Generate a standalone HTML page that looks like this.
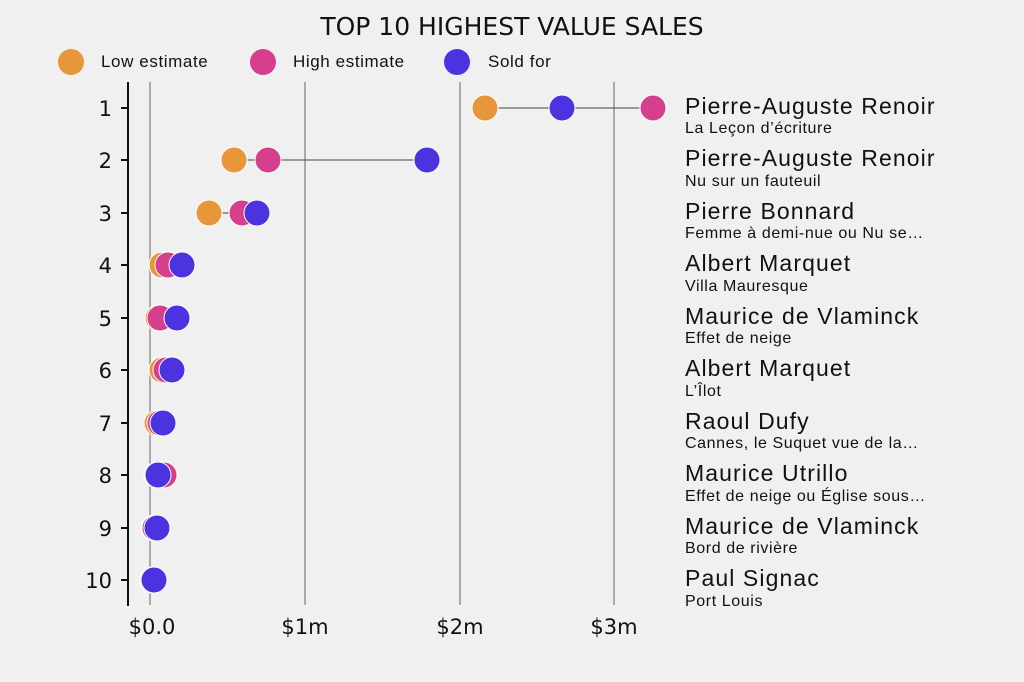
<!DOCTYPE html>
<html><head><meta charset="utf-8"><style>
body{margin:0;background:#f0f0f0;}
svg{display:block}
.t{font-family:"DejaVu Sans",sans-serif;}
.n{font-family:"Liberation Sans",sans-serif;}
</style></head><body>
<svg width="1024" height="682" viewBox="0 0 1024 682" xmlns="http://www.w3.org/2000/svg">
<rect width="1024" height="682" fill="#f0f0f0"/>
<text x="512" y="35" text-anchor="middle" class="t" font-size="25" fill="#111">TOP 10 HIGHEST VALUE SALES</text>
<g class="n" font-size="17" fill="#111" letter-spacing="0.6">
<circle cx="71" cy="62" r="13" fill="#E8963A"/><text x="101" y="67">Low estimate</text>
<circle cx="263" cy="62" r="13" fill="#D63F8C"/><text x="293" y="67">High estimate</text>
<circle cx="457" cy="62" r="13" fill="#4B34E0"/><text x="488" y="67">Sold for</text>
</g>
<g stroke="#aaa" stroke-width="2">
<line x1="150" y1="82" x2="150" y2="605"/><line x1="305" y1="82" x2="305" y2="605"/>
<line x1="460" y1="82" x2="460" y2="605"/><line x1="614" y1="82" x2="614" y2="605"/>
</g>
<line x1="128" y1="82" x2="128" y2="606" stroke="#111" stroke-width="2"/>
<g stroke="#111" stroke-width="2">
<line x1="121" y1="108" x2="128" y2="108"/><line x1="121" y1="160" x2="128" y2="160"/><line x1="121" y1="213" x2="128" y2="213"/><line x1="121" y1="265" x2="128" y2="265"/><line x1="121" y1="318" x2="128" y2="318"/><line x1="121" y1="370" x2="128" y2="370"/><line x1="121" y1="423" x2="128" y2="423"/><line x1="121" y1="475" x2="128" y2="475"/><line x1="121" y1="528" x2="128" y2="528"/><line x1="121" y1="580" x2="128" y2="580"/>
</g>
<g class="t" font-size="21" fill="#111" text-anchor="end">
<text x="112" y="116">1</text><text x="112" y="168">2</text><text x="112" y="221">3</text><text x="112" y="273">4</text><text x="112" y="326">5</text><text x="112" y="378">6</text><text x="112" y="431">7</text><text x="112" y="483">8</text><text x="112" y="536">9</text><text x="112" y="588">10</text>
</g>
<g class="t" font-size="21" fill="#111" text-anchor="middle">
<text x="152" y="634">$0.0</text><text x="305" y="634">$1m</text><text x="460" y="634">$2m</text><text x="614" y="634">$3m</text>
</g>
<g stroke="#444" stroke-width="1">
<line x1="485" y1="108" x2="653" y2="108"/><line x1="234" y1="160" x2="427" y2="160"/><line x1="209" y1="213" x2="257" y2="213"/>
</g>
<g stroke="#fff" stroke-width="1">
<circle cx="485" cy="108" r="13" fill="#E8963A"/><circle cx="653" cy="108" r="13" fill="#D63F8C"/><circle cx="562" cy="108" r="13" fill="#4B34E0"/>
<circle cx="234" cy="160" r="13" fill="#E8963A"/><circle cx="268" cy="160" r="13" fill="#D63F8C"/><circle cx="427" cy="160" r="13" fill="#4B34E0"/>
<circle cx="209" cy="213" r="13" fill="#E8963A"/><circle cx="242" cy="213" r="13" fill="#D63F8C"/><circle cx="257" cy="213" r="13" fill="#4B34E0"/>
<circle cx="162" cy="265" r="13" fill="#E8963A"/><circle cx="168" cy="265" r="13" fill="#D63F8C"/><circle cx="182" cy="265" r="13" fill="#4B34E0"/>
<circle cx="158" cy="318" r="13" fill="#E8963A"/><circle cx="160" cy="318" r="13" fill="#D63F8C"/><circle cx="177" cy="318" r="13" fill="#4B34E0"/>
<circle cx="162" cy="370" r="13" fill="#E8963A"/><circle cx="166" cy="370" r="13" fill="#D63F8C"/><circle cx="172" cy="370" r="13" fill="#4B34E0"/>
<circle cx="157" cy="423" r="13" fill="#E8963A"/><circle cx="160" cy="423" r="13" fill="#D63F8C"/><circle cx="163" cy="423" r="13" fill="#4B34E0"/>
<circle cx="157" cy="475" r="13" fill="#E8963A"/><circle cx="164" cy="475" r="13" fill="#D63F8C"/><circle cx="158" cy="475" r="13" fill="#4B34E0"/>
<circle cx="154" cy="528" r="13" fill="#E8963A"/><circle cx="155" cy="528" r="13" fill="#D63F8C"/><circle cx="157" cy="528" r="13" fill="#4B34E0"/>
<circle cx="153" cy="580" r="13" fill="#E8963A"/><circle cx="153" cy="580" r="13" fill="#D63F8C"/><circle cx="154" cy="580" r="13" fill="#4B34E0"/>
</g>
<g class="n" fill="#111">
<g font-size="23" letter-spacing="1.1">
<text x="685" y="114">Pierre-Auguste Renoir</text>
<text x="685" y="166">Pierre-Auguste Renoir</text>
<text x="685" y="219">Pierre Bonnard</text>
<text x="685" y="271">Albert Marquet</text>
<text x="685" y="324">Maurice de Vlaminck</text>
<text x="685" y="376">Albert Marquet</text>
<text x="685" y="429">Raoul Dufy</text>
<text x="685" y="481">Maurice Utrillo</text>
<text x="685" y="534">Maurice de Vlaminck</text>
<text x="685" y="586">Paul Signac</text>
</g>
<g font-size="16" letter-spacing="0.6">
<text x="685" y="133">La Leçon d’écriture</text>
<text x="685" y="186">Nu sur un fauteuil</text>
<text x="685" y="238">Femme à demi-nue ou Nu se…</text>
<text x="685" y="291">Villa Mauresque</text>
<text x="685" y="343">Effet de neige</text>
<text x="685" y="396">L’Îlot</text>
<text x="685" y="448">Cannes, le Suquet vue de la…</text>
<text x="685" y="501">Effet de neige ou Église sous…</text>
<text x="685" y="553">Bord de rivière</text>
<text x="685" y="606">Port Louis</text>
</g>
</g>
</svg>
</body></html>
